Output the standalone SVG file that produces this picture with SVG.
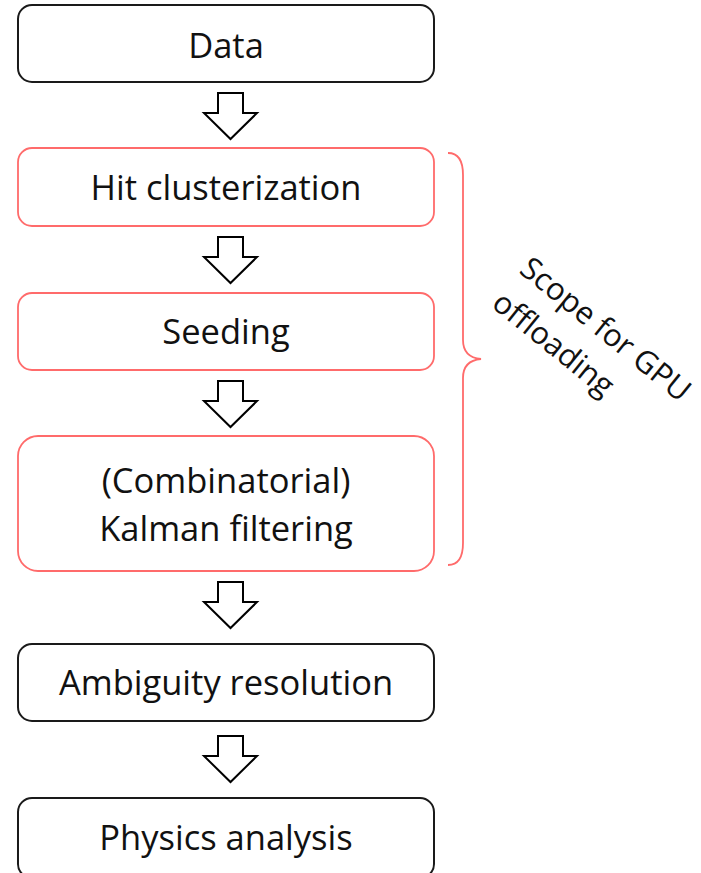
<svg xmlns="http://www.w3.org/2000/svg" width="701" height="873" viewBox="0 0 701 873">
  <style>
    .box { fill: #ffffff; stroke-width: 2; }
    .plain { stroke: #1a1a1a; }
    .gpu { stroke: #ff6b6b; stroke-width: 1.8; }
    .label { font-family: "Open Sans", "Liberation Sans", sans-serif; font-size: 34.5px; fill: #111111; text-anchor: middle; }
    .note { font-family: "Open Sans", "Liberation Sans", sans-serif; font-size: 31px; fill: #111111; text-anchor: start; }
    .step { fill: #ffffff; stroke: #000000; stroke-width: 2; stroke-linejoin: miter; }
    .brace { fill: none; stroke: #ff6b6b; stroke-width: 1.8; }
  </style>
  <defs>
    <!-- block arrow pointing down, origin at top centre -->
    <path id="down" d="M -12 0 H 13 V 20 H 27 L 0.5 46 L -26 20 H -12 Z"/>
  </defs>

  <rect width="701" height="873" fill="#ffffff"/>

  <g id="connectors">
    <use href="#down" class="step" x="230" y="93"/>
    <use href="#down" class="step" x="230" y="237"/>
    <use href="#down" class="step" x="230" y="381"/>
    <use href="#down" class="step" x="230" y="582"/>
    <use href="#down" class="step" x="230" y="736"/>
  </g>

  <g id="data">
    <rect class="box plain" x="18" y="5" width="416" height="77" rx="14"/>
    <text class="label" x="226" y="58">Data</text>
  </g>

  <g id="hit-clusterization">
    <rect class="box gpu" x="18" y="148" width="416" height="78" rx="14"/>
    <text class="label" x="226" y="200">Hit clusterization</text>
  </g>

  <g id="seeding">
    <rect class="box gpu" x="18" y="293" width="416" height="77" rx="14"/>
    <text class="label" x="226" y="344">Seeding</text>
  </g>

  <g id="kalman-filtering">
    <rect class="box gpu" x="18" y="436" width="416" height="135" rx="20"/>
    <text class="label" x="226" y="493">(Combinatorial)</text>
    <text class="label" x="226" y="541">Kalman filtering</text>
  </g>

  <g id="ambiguity-resolution">
    <rect class="box plain" x="18" y="644" width="416" height="77" rx="14"/>
    <text class="label" x="226" y="695">Ambiguity resolution</text>
  </g>

  <g id="physics-analysis">
    <rect class="box plain" x="18" y="798" width="416" height="80" rx="14"/>
    <text class="label" x="226" y="850">Physics analysis</text>
  </g>

  <g id="gpu-scope">
    <path class="brace" d="M 448 153 C 458 153 463 160 463 175 V 340 C 463 352 470 358 481 359 C 470 360 463 366 463 378 V 543 C 463 558 458 565 448 565"/>
    <g transform="translate(518 272) rotate(39)">
      <text class="note" x="0" y="0">Scope for GPU</text>
      <text class="note" x="0" y="44">offloading</text>
    </g>
  </g>
</svg>
